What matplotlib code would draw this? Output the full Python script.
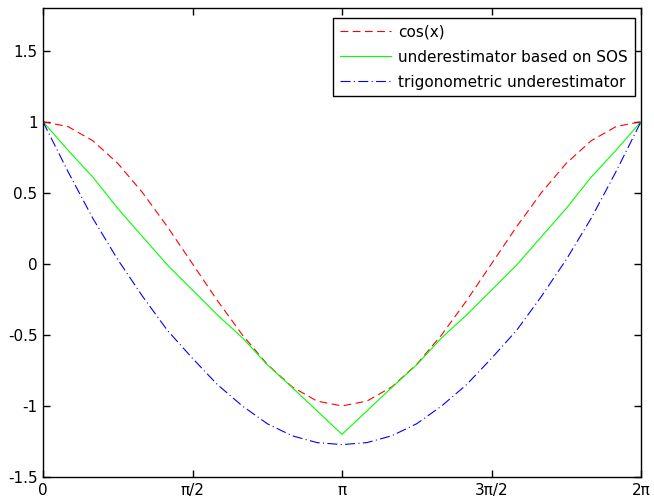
import numpy as np
import matplotlib
matplotlib.use("Agg")
import matplotlib.pyplot as plt

# sample positions: k*pi/12, k = 0..24
k_steps = list(range(25))
cos_vals = [1.0, 0.966, 0.866, 0.707, 0.5, 0.259, 0.0, -0.259, -0.5, -0.707, -0.866, -0.966, -1.0,
            -0.966, -0.866, -0.707, -0.5, -0.259, 0.0, 0.259, 0.5, 0.707, 0.866, 0.966, 1.0]
sos_vals = [1.0, 0.80, 0.61, 0.39, 0.19, -0.01, -0.185, -0.36, -0.52, -0.71, -0.87, -1.035, -1.2,
            -1.035, -0.87, -0.71, -0.52, -0.36, -0.185, -0.01, 0.19, 0.39, 0.61, 0.80, 1.0]
trig_vals = [1.0, 0.65, 0.32, 0.03, -0.23, -0.47, -0.665, -0.85, -1.0, -1.125, -1.21, -1.258, -1.272,
             -1.258, -1.21, -1.125, -1.0, -0.85, -0.665, -0.47, -0.23, 0.03, 0.32, 0.65, 1.0]
labels = ["cos(x)", "underestimator based on SOS", "trigonometric underestimator"]
xtick_labels = ["0", "\u03c0/2", "\u03c0", "3\u03c0/2", "2\u03c0"]
ytick_vals = [-1.5, -1, -0.5, 0, 0.5, 1, 1.5]
ytick_labels = ["-1.5", "-1", "-0.5", "0", "0.5", "1", "1.5"]

x = np.array(k_steps) * np.pi / 12

fig = plt.figure(figsize=(6.54, 5.01), dpi=100)
ax = fig.add_axes([43/654, 24/501, (641-43)/654, (477-8)/501])
ax.plot(x, cos_vals, color=(1, 0, 0), ls=(0, (7, 4)), lw=0.8, label=labels[0])
ax.plot(x, sos_vals, color=(0, 1, 0), ls='-', lw=0.8, label=labels[1])
ax.plot(x, trig_vals, color=(0, 0, 1), ls=(0, (9, 3, 1, 3)), lw=0.8, label=labels[2])

ax.set_xlim(0, 2*np.pi)
ax.set_ylim(-1.5, 1.8)
ax.set_xticks([0, np.pi/2, np.pi, 3*np.pi/2, 2*np.pi])
ax.set_xticklabels(xtick_labels)
ax.set_yticks(ytick_vals)
ax.set_yticklabels(ytick_labels)
ax.tick_params(direction='in', top=True, right=True, length=5, width=1, labelsize=11, pad=4)
for s in ax.spines.values():
    s.set_linewidth(1.0)

leg = ax.legend(loc='upper right', bbox_to_anchor=(0.99, 0.979), fancybox=False,
                edgecolor='black', fontsize=11, handlelength=3.3, borderpad=0.45,
                labelspacing=0.65, handletextpad=0.5, borderaxespad=0.0, framealpha=1)
leg.get_frame().set_linewidth(1.0)

fig.savefig("out.png", dpi=100, facecolor='white')
